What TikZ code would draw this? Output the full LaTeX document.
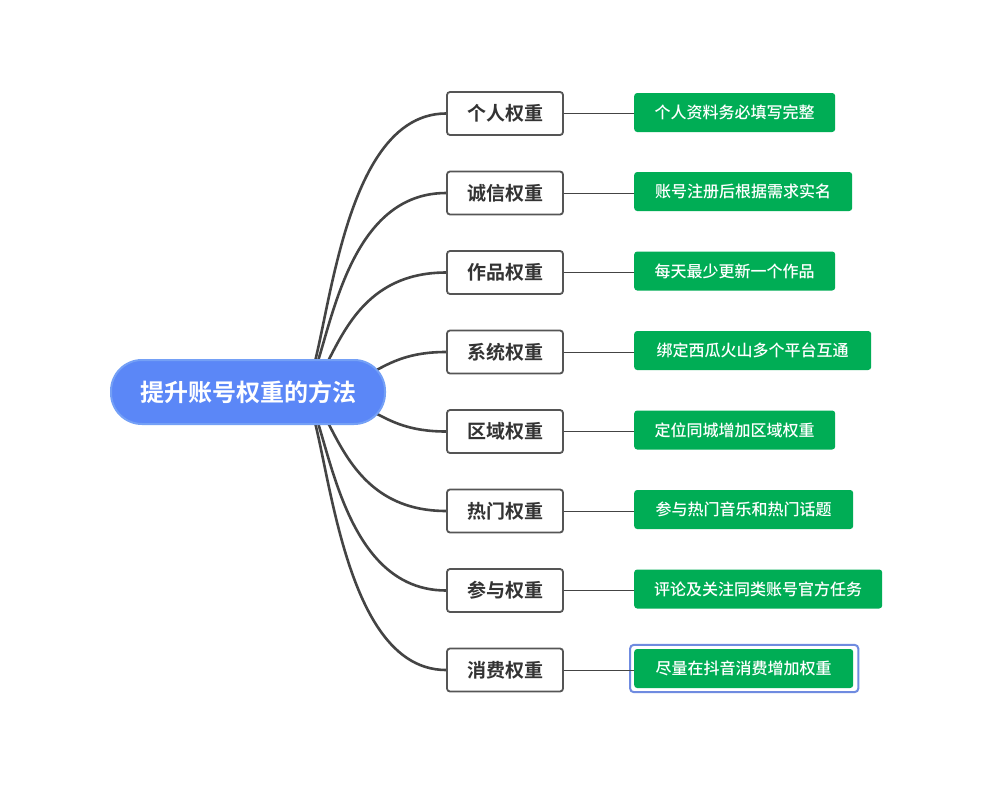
\documentclass[tikz,border=0pt]{standalone}
\usepackage{fontspec}
\newfontfamily\cjkbold{Noto Sans CJK SC Bold}
\newfontfamily\cjkmed{Noto Sans CJK SC Medium}
\usetikzlibrary{backgrounds,calc}
\definecolor{rootblue}{HTML}{5B87F7}
\definecolor{rootedge}{HTML}{74A0F6}
\definecolor{leafgreen}{HTML}{00AD55}
\definecolor{linegray}{HTML}{444444}
\definecolor{boxgray}{HTML}{555555}
\definecolor{selblue}{HTML}{6F8BE0}
\definecolor{topictext}{HTML}{333333}
\begin{document}
\begin{tikzpicture}[x=1pt,y=-1pt,
 root/.style={draw=rootedge, line width=2pt, fill=rootblue, rounded corners=31pt, minimum width=274pt, minimum height=64pt, text=white, font=\cjkbold\fontsize{24}{24}\selectfont, inner sep=0pt},
 topic/.style={draw=boxgray, line width=1.8pt, fill=white, rounded corners=3pt, minimum width=116pt, minimum height=43pt, text=topictext, font=\cjkbold\fontsize{19}{19}\selectfont, inner sep=0pt},
 leaf/.style={fill=leafgreen, rounded corners=3pt, minimum height=39pt, inner xsep=20pt, inner ysep=0pt, text=white, font=\cjkmed\fontsize{16}{16}\selectfont, anchor=west},
 branch/.style={draw=linegray, line width=2.6pt},
 link/.style={draw=linegray, line width=1pt},
 sel/.style={draw=selblue, line width=2pt, rounded corners=4pt}
]
\useasboundingbox (0,0) rectangle (998,792);

\node[root] (r) at (248,392) {提升账号权重的方法};

\node[topic] (t1) at (505,113.5) {个人权重};
\node[topic] (t2) at (505,193) {诚信权重};
\node[topic] (t3) at (505,272.5) {作品权重};
\node[topic] (t4) at (505,352) {系统权重};
\node[topic] (t5) at (505,431.5) {区域权重};
\node[topic] (t6) at (505,511) {热门权重};
\node[topic] (t7) at (505,590.5) {参与权重};
\node[topic] (t8) at (505,670) {消费权重};

\node[leaf, minimum width=201pt] (l1) at (634,112.5) {个人资料务必填写完整};
\node[leaf, minimum width=218pt] (l2) at (634,191.5) {账号注册后根据需求实名};
\node[leaf, minimum width=201pt] (l3) at (634,271) {每天最少更新一个作品};
\node[leaf, minimum width=237pt] (l4) at (634,350.5) {绑定西瓜火山多个平台互通};
\node[leaf, minimum width=201pt] (l5) at (634,430) {定位同城增加区域权重};
\node[leaf, minimum width=219pt] (l6) at (634,509.5) {参与热门音乐和热门话题};
\node[leaf, minimum width=247pt] (l7) at (634,589) {评论及关注同类账号官方任务};
\node[leaf, minimum width=219pt] (l8) at (634,668.5) {尽量在抖音消费增加权重};

\draw[sel] ($(l8.south west)+(-4,4)$) rectangle ($(l8.north east)+(5,-4)$);

\coordinate (s) at (300,392);
\coordinate (ca) at (328,392);
\coordinate (cb) at (334,392);
\coordinate (cc) at (373,392);

\begin{scope}[on background layer]
\fill[white] (0,0) rectangle (998,792);
\draw[branch] (s) .. controls (ca) and (ca |- t1.west) .. (t1.west);
\draw[branch] (s) .. controls (ca) and (ca |- t2.west) .. (t2.west);
\draw[branch] (s) .. controls (cb) and (cb |- t3.west) .. (t3.west);
\draw[branch] (s) .. controls (cc) and (cc |- t4.west) .. (t4.west);
\draw[branch] (s) .. controls (cc) and (cc |- t5.west) .. (t5.west);
\draw[branch] (s) .. controls (cb) and (cb |- t6.west) .. (t6.west);
\draw[branch] (s) .. controls (ca) and (ca |- t7.west) .. (t7.west);
\draw[branch] (s) .. controls (ca) and (ca |- t8.west) .. (t8.west);
\end{scope}

\draw[link] (t1.east) -- (t1.east -| l1.west);
\draw[link] (t2.east) -- (t2.east -| l2.west);
\draw[link] (t3.east) -- (t3.east -| l3.west);
\draw[link] (t4.east) -- (t4.east -| l4.west);
\draw[link] (t5.east) -- (t5.east -| l5.west);
\draw[link] (t6.east) -- (t6.east -| l6.west);
\draw[link] (t7.east) -- (t7.east -| l7.west);
\draw[link] (t8.east) -- (t8.east -| l8.west);
\end{tikzpicture}
\end{document}
